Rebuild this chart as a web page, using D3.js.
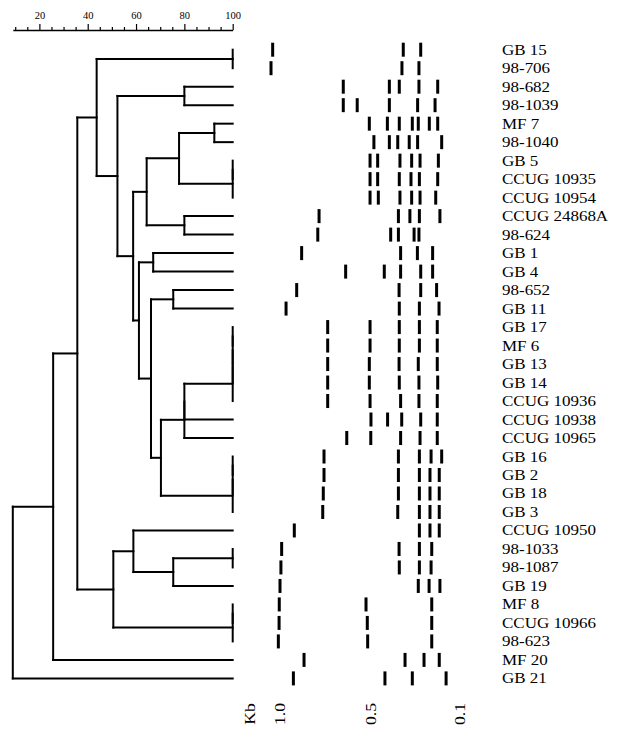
<!DOCTYPE html>
<html>
<head>
<meta charset="utf-8">
<script src="https://cdn.jsdelivr.net/npm/d3@7"></script>
<style>
    body { margin: 0; background: #fff; }
    text { font-family: "Liberation Serif", "Times New Roman", serif; fill: #000; }
</style>
</head>
<body>
<div id="chart"></div>
<script>
'use strict';

var strains = ['GB 15', '98-706', '98-682', '98-1039', 'MF 7', '98-1040', 'GB 5',
    'CCUG 10935', 'CCUG 10954', 'CCUG 24868A', '98-624', 'GB 1', 'GB 4', '98-652',
    'GB 11', 'GB 17', 'MF 6', 'GB 13', 'GB 14', 'CCUG 10936', 'CCUG 10938',
    'CCUG 10965', 'GB 16', 'GB 2', 'GB 18', 'GB 3', 'CCUG 10950', '98-1033',
    '98-1087', 'GB 19', 'MF 8', 'CCUG 10966', '98-623', 'MF 20', 'GB 21'];

// band sizes in kb, one list per strain (same order as strains)
var bandKb = [
    [1.040, 0.357, 0.278],
    [1.049, 0.363, 0.286],
    [0.655, 0.420, 0.375, 0.286, 0.201],
    [0.655, 0.579, 0.420, 0.292, 0.213],
    [0.513, 0.429, 0.375, 0.316, 0.289, 0.239, 0.201],
    [0.490, 0.420, 0.382, 0.330, 0.292, 0.183],
    [0.509, 0.473, 0.372, 0.319, 0.281, 0.198],
    [0.509, 0.473, 0.375, 0.322, 0.284, 0.201],
    [0.509, 0.470, 0.372, 0.319, 0.281, 0.210],
    [0.787, 0.379, 0.327, 0.284, 0.191],
    [0.794, 0.414, 0.379, 0.308, 0.286],
    [0.882, 0.369, 0.293, 0.224],
    [0.642, 0.443, 0.369, 0.278, 0.224],
    [0.909, 0.376, 0.278, 0.206],
    [0.967, 0.375, 0.284, 0.195],
    [0.740, 0.509, 0.375, 0.284, 0.203],
    [0.740, 0.509, 0.375, 0.284, 0.203],
    [0.740, 0.513, 0.376, 0.289, 0.203],
    [0.740, 0.513, 0.375, 0.286, 0.201],
    [0.740, 0.509, 0.369, 0.286, 0.203],
    [0.504, 0.428, 0.364, 0.278, 0.203],
    [0.636, 0.505, 0.369, 0.281, 0.203],
    [0.760, 0.379, 0.284, 0.231, 0.183],
    [0.760, 0.379, 0.284, 0.236, 0.194],
    [0.764, 0.379, 0.284, 0.236, 0.194],
    [0.767, 0.382, 0.284, 0.236, 0.194],
    [0.922, 0.284, 0.236, 0.194],
    [0.991, 0.376, 0.284, 0.228],
    [0.995, 0.375, 0.284, 0.231],
    [1.000, 0.289, 0.240, 0.191],
    [1.004, 0.531, 0.228],
    [1.005, 0.524, 0.228],
    [1.009, 0.522, 0.228],
    [0.869, 0.349, 0.263, 0.194],
    [0.927, 0.440, 0.316, 0.163]
];

// cluster joins: [id, left, right, % similarity]
var merges = [
    ['A', 'GB 15', '98-706', 100],
    ['D', '98-682', '98-1039', 80],
    ['J', 'MF 7', '98-1040', 92.4],
    ['K1', 'GB 5', 'CCUG 10935', 100],
    ['K', 'K1', 'CCUG 10954', 100],
    ['H', 'J', 'K', 77.8],
    ['I', 'CCUG 24868A', '98-624', 80],
    ['F', 'H', 'I', 64.4],
    ['L', 'GB 1', 'GB 4', 67.1],
    ['N', '98-652', 'GB 11', 75.4],
    ['R1', 'GB 17', 'MF 6', 100],
    ['R2', 'R1', 'GB 13', 100],
    ['R3', 'R2', 'GB 14', 100],
    ['R', 'R3', 'CCUG 10936', 100],
    ['S1', 'R', 'CCUG 10938', 80],
    ['S', 'S1', 'CCUG 10965', 80],
    ['Q1', 'GB 16', 'GB 2', 100],
    ['Q2', 'Q1', 'GB 18', 100],
    ['Q', 'Q2', 'GB 3', 100],
    ['O', 'S', 'Q', 70.3],
    ['M', 'N', 'O', 66.2],
    ['G', 'L', 'M', 61.2],
    ['E', 'F', 'G', 58.8],
    ['C', 'D', 'E', 52.3],
    ['B', 'A', 'C', 43.7],
    ['X', '98-1033', '98-1087', 100],
    ['W', 'X', 'GB 19', 75.4],
    ['U', 'CCUG 10950', 'W', 58.9],
    ['V1', 'MF 8', 'CCUG 10966', 100],
    ['V', 'V1', '98-623', 100],
    ['T', 'U', 'V', 50.6],
    ['P', 'B', 'T', 35.7],
    ['Z', 'P', 'MF 20', 25.7],
    ['root', 'Z', 'GB 21', 9]
];

var simTicks = d3.range(10, 101, 5);
var simLabels = [20, 40, 60, 80, 100];
var kbTicks = [1.0, 0.5, 0.1];
var kbLabels = ['1.0', '0.5', '0.1'];

var width = 618, height = 737;

var svg = d3.select('#chart').append('svg')
    .attr('width', width)
    .attr('height', height);

var x = d3.scaleLinear().domain([9, 100]).range([12.8, 232.7]);
var y = d3.scalePoint().domain(strains).range([49.7, 678.4]);
var kb = d3.scaleLinear().domain(kbTicks).range([280, 371.7, 460]);

// similarity axis on top
var axis = d3.axisTop(x)
    .tickValues(simTicks)
    .tickSize(3)
    .tickSizeOuter(0)
    .tickPadding(8)
    .tickFormat(function (d) { return simLabels.indexOf(d) >= 0 ? d : ''; });

var ax = svg.append('g')
    .attr('transform', 'translate(0,30)')
    .call(axis)
    .attr('font-family', '"Liberation Serif", "Times New Roman", serif')
    .attr('font-size', 10.5);
ax.select('.domain').attr('stroke-width', 1.5);
ax.selectAll('.tick line')
    .attr('stroke-width', 1.2)
    .filter(function (d) { return d % 20 === 0; })
    .attr('y2', -6);

// dendrogram
var nodes = {};
strains.forEach(function (s) { nodes[s] = {name: s, sim: 100}; });
merges.forEach(function (m) {
    nodes[m[0]] = {name: m[0], sim: m[3], children: [nodes[m[1]], nodes[m[2]]]};
});

var root = d3.hierarchy(nodes[merges[merges.length - 1][0]]);
root.eachAfter(function (d) {
    d.px = x(d.data.sim);
    if (d.children) {
        d.py = (d.children[0].py + d.children[1].py) / 2;
    } else {
        d.py = y(d.data.name);
    }
});

var tree = svg.append('g')
    .attr('stroke', '#000')
    .attr('stroke-width', 2)
    .attr('stroke-linecap', 'square');

root.descendants().forEach(function (d) {
    if (!d.children) return;
    tree.append('line')
        .attr('x1', d.px).attr('x2', d.px)
        .attr('y1', d.children[0].py).attr('y2', d.children[1].py);
    d.children.forEach(function (c) {
        if (c.px === d.px) return;
        tree.append('line')
            .attr('x1', d.px).attr('x2', c.px)
            .attr('y1', c.py).attr('y2', c.py);
    });
});

// gel bands
var lanes = svg.append('g').selectAll('g')
    .data(strains)
    .join('g')
    .attr('transform', function (d) { return 'translate(0,' + y(d) + ')'; });

lanes.selectAll('rect')
    .data(function (d, i) { return bandKb[i]; })
    .join('rect')
    .attr('x', function (d) { return kb(d) - 1.5; })
    .attr('y', -7)
    .attr('width', 3)
    .attr('height', 14)
    .attr('fill', '#000');

// strain names
svg.append('g').selectAll('text')
    .data(strains)
    .join('text')
    .attr('transform', function (d) {
        return 'translate(502,' + (y(d) + 5) + ') scale(1.25,1)';
    })
    .style('font-size', '13.6px')
    .text(function (d) { return d; });

// kb scale under the bands
var kbText = [{t: 'Kb', pos: kb(1.0) - 30}].concat(kbTicks.map(function (t, i) {
    return {t: kbLabels[i], pos: kb(t)};
}));

svg.append('g').selectAll('text')
    .data(kbText)
    .join('text')
    .attr('transform', function (d) {
        return 'translate(' + d.pos + ',714) rotate(-90) scale(1.22,1)';
    })
    .attr('text-anchor', 'middle')
    .attr('dy', '0.33em')
    .style('font-size', '14.5px')
    .text(function (d) { return d.t; });
</script>
</body>
</html>
